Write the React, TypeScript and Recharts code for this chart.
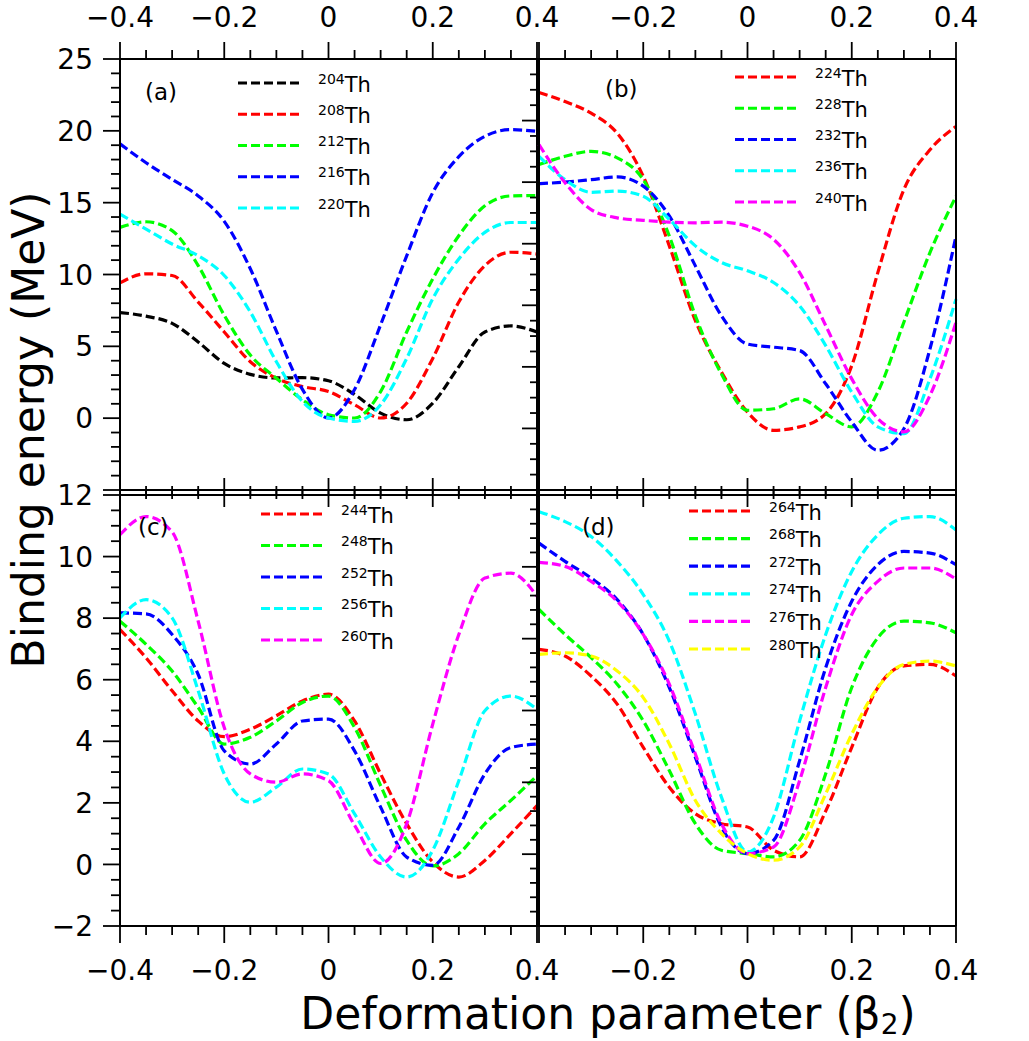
import React from 'react';
import { LineChart, Line, XAxis, YAxis, Legend } from 'recharts';

const FONT = '"DejaVu Sans", "Liberation Sans", sans-serif';
const W = 1029;
const H = 1041;

// deformation parameter grid
const BETA = [-0.4, -0.35, -0.3, -0.25, -0.2, -0.15, -0.1, -0.05, 0, 0.05, 0.1, 0.15, 0.2, 0.25, 0.3, 0.35, 0.4];

// tick values
const X_TICKS = [-0.4, -0.35, -0.3, -0.25, -0.2, -0.15, -0.1, -0.05, 0, 0.05, 0.1, 0.15, 0.2, 0.25, 0.3, 0.35, 0.4];
const Y_TICKS_25 = [-5, -4, -3, -2, -1, 0, 1, 2, 3, 4, 5, 6, 7, 8, 9, 10, 11, 12, 13, 14, 15, 16, 17, 18, 19, 20, 21, 22, 23, 24, 25];
const Y_TICKS_12 = [-2, -1.5, -1, -0.5, 0, 0.5, 1, 1.5, 2, 2.5, 3, 3.5, 4, 4.5, 5, 5.5, 6, 6.5, 7, 7.5, 8, 8.5, 9, 9.5, 10, 10.5, 11, 11.5, 12];

// panel (a)
const TH204 = [7.35, 7.1, 6.6, 5.3, 3.81, 3.05, 2.8, 2.82, 2.6, 1.65, 0.35, -0.11, 1.04, 3.58, 6.0, 6.42, 6.0];
const TH208 = [9.42, 10.05, 9.93, 8.08, 6.0, 3.93, 2.78, 2.2, 1.85, 0.93, 0.01, 1.04, 4.16, 8.08, 10.62, 11.55, 11.43];
const TH212 = [13.28, 13.67, 13.05, 10.62, 7.16, 4.39, 2.78, 1.28, 0.24, 0.01, 1.85, 6.0, 9.7, 12.7, 14.78, 15.47, 15.5];
const TH216 = [19.09, 17.78, 16.62, 15.47, 13.7, 10.4, 6.05, 2.0, 0.01, 2.0, 6.5, 11.3, 15.7, 18.2, 19.62, 20.08, 19.97];
const TH220 = [14.2, 13.16, 12.12, 11.31, 9.93, 7.39, 3.93, 1.16, 0.01, -0.22, 0.93, 4.16, 8.31, 11.08, 12.93, 13.62, 13.62];

// panel (b)
const TH224 = [10.91, 10.62, 10.24, 9.59, 8.19, 5.93, 3.5, 1.83, 0.53, -0.06, 0.05, 0.48, 2.04, 5.06, 7.76, 9.05, 9.81];
const TH228 = [8.57, 8.84, 9.0, 8.79, 8.08, 6.25, 3.66, 1.77, 0.59, 0.64, 0.96, 0.48, 0.05, 1.18, 3.45, 5.71, 7.54];
const TH232 = [7.95, 8.0, 8.08, 8.17, 7.87, 6.9, 5.28, 3.66, 2.74, 2.64, 2.53, 1.45, 0.21, -0.71, -0.01, 2.58, 6.25];
const TH236 = [8.84, 8.08, 7.67, 7.71, 7.54, 6.79, 5.93, 5.39, 5.12, 4.74, 3.98, 2.69, 1.18, 0.05, -0.17, 1.61, 4.2];
const TH240 = [9.22, 7.98, 7.11, 6.84, 6.76, 6.7, 6.68, 6.7, 6.57, 6.14, 5.06, 3.34, 1.61, 0.32, -0.11, 1.07, 3.45];

// panel (c)
const TH244 = [7.63, 6.71, 5.64, 4.66, 4.15, 4.39, 4.83, 5.31, 5.53, 4.66, 2.94, 1.32, 0.08, -0.41, 0.13, 1.0, 1.91];
const TH248 = [7.9, 7.15, 6.28, 5.1, 3.91, 4.13, 4.66, 5.26, 5.47, 4.45, 2.56, 0.78, -0.05, 0.35, 1.32, 2.08, 2.88];
const TH252 = [8.17, 8.14, 7.47, 6.17, 3.69, 3.26, 3.91, 4.66, 4.72, 3.69, 1.86, 0.24, -0.03, 1.21, 2.94, 3.8, 3.91];
const TH256 = [8.01, 8.6, 8.01, 5.64, 2.94, 2.02, 2.51, 3.1, 2.94, 1.64, 0.24, -0.41, 0.46, 2.72, 4.99, 5.47, 5.04];
const TH260 = [10.71, 11.3, 10.8, 7.9, 4.45, 2.94, 2.67, 2.94, 2.72, 1.27, 0.03, 1.32, 4.56, 7.47, 9.3, 9.46, 8.71];

// panel (d)
const TH264 = [14.25, 13.79, 12.4, 10.44, 7.44, 4.66, 2.81, 2.12, 1.89, 0.27, -0.19, 3.0, 7.44, 11.6, 13.1, 13.21, 12.4];
const TH268 = [17.03, 15.29, 13.68, 11.83, 9.28, 5.82, 2.12, 0.27, 0.04, -0.19, 0.96, 5.59, 11.6, 15.06, 16.22, 16.1, 15.41];
const TH272 = [21.65, 20.38, 19.22, 17.72, 15.29, 11.6, 6.74, 1.89, 0.04, 0.96, 6.51, 12.98, 17.6, 20.15, 21.07, 20.96, 20.15];
const TH274 = [23.84, 23.15, 22.11, 20.38, 18.07, 14.83, 9.75, 3.97, 0.16, 2.58, 9.28, 15.29, 19.68, 22.23, 23.38, 23.5, 22.57];
const TH276 = [20.31, 20.03, 18.99, 17.6, 15.29, 11.83, 6.97, 2.12, 0.04, 0.5, 5.12, 11.6, 16.68, 18.99, 19.92, 19.92, 19.15];
const TH280 = [13.91, 14.02, 13.79, 12.75, 10.9, 7.67, 3.74, 1.43, 0.04, -0.42, 0.5, 4.2, 8.36, 11.6, 13.21, 13.44, 13.1];

const BLACK = '#000000';
const RED = '#ff0000';
const GREEN = '#00ff00';
const BLUE = '#0000ff';
const CYAN = '#00ffff';
const MAGENTA = '#ff00ff';
const YELLOW = '#ffff00';

type SeriesDef = { name: string; color: string; values: number[] };

const SERIES_A: SeriesDef[] = [
  { name: '204', color: BLACK, values: TH204 },
  { name: '208', color: RED, values: TH208 },
  { name: '212', color: GREEN, values: TH212 },
  { name: '216', color: BLUE, values: TH216 },
  { name: '220', color: CYAN, values: TH220 },
];
const SERIES_B: SeriesDef[] = [
  { name: '224', color: RED, values: TH224 },
  { name: '228', color: GREEN, values: TH228 },
  { name: '232', color: BLUE, values: TH232 },
  { name: '236', color: CYAN, values: TH236 },
  { name: '240', color: MAGENTA, values: TH240 },
];
const SERIES_C: SeriesDef[] = [
  { name: '244', color: RED, values: TH244 },
  { name: '248', color: GREEN, values: TH248 },
  { name: '252', color: BLUE, values: TH252 },
  { name: '256', color: CYAN, values: TH256 },
  { name: '260', color: MAGENTA, values: TH260 },
];
const SERIES_D: SeriesDef[] = [
  { name: '264', color: RED, values: TH264 },
  { name: '268', color: GREEN, values: TH268 },
  { name: '272', color: BLUE, values: TH272 },
  { name: '274', color: CYAN, values: TH274 },
  { name: '276', color: MAGENTA, values: TH276 },
  { name: '280', color: YELLOW, values: TH280 },
];

const DASH = '9 4';
const LW = 3.2;
const AX = 20;
const MAJOR_LEN = 17;
const MINOR_LEN = 9;
const TICK_FS = 28;

const fmt = (v: number) => {
  const r = Math.round(v * 100) / 100;
  const s = Math.abs(r).toString();
  return r < 0 ? '\u2212' + s : s;
};

type Orient = 'top' | 'bottom' | 'left' | 'right';

function makeTick(orient: Orient, major: number, showLabels: boolean, hidden: number[]) {
  return (props: any) => {
    const { x, y, payload } = props;
    const v = payload.value as number;
    const r = v / major;
    const isMajor = Math.abs(r - Math.round(r)) < 1e-6;
    const len = isMajor ? MAJOR_LEN : MINOR_LEN;
    const show = showLabels && isMajor && !hidden.some((h) => Math.abs(h - v) < 1e-9);
    const txt = fmt(v);
    let x2 = x;
    let y2 = y;
    let label: React.ReactNode = null;
    const tp = { fontFamily: FONT, fontSize: TICK_FS, fill: '#000' };
    if (orient === 'top') {
      y2 = y - len;
      if (show) label = <text x={x} y={y - 32} textAnchor="middle" {...tp}>{txt}</text>;
    } else if (orient === 'bottom') {
      y2 = y + len;
      if (show) label = <text x={x} y={y + 54} textAnchor="middle" {...tp}>{txt}</text>;
    } else if (orient === 'left') {
      x2 = x - len;
      if (show) label = <text x={x - 27} y={y} dy="0.36em" textAnchor="end" {...tp}>{txt}</text>;
    } else {
      x2 = x + len;
      if (show) label = <text x={x + 26} y={y} dy="0.36em" textAnchor="start" {...tp}>{txt}</text>;
    }
    return (
      <g>
        <line x1={x} y1={y} x2={x2} y2={y2} stroke="#000" strokeWidth={1.8} />
        {label}
      </g>
    );
  };
}

const LegendBox = ({ payload, rowH }: { payload: any[]; rowH: number }) => (
  <svg width={200} height={rowH * payload.length + 20} style={{ display: 'block', overflow: 'visible' }}>
    {payload.map((e: any, i: number) => {
      const y = 15 + i * rowH;
      return (
        <g key={i}>
          <line x1={0} x2={64} y1={y} y2={y} stroke={e.color} strokeWidth={LW} strokeDasharray={DASH} />
          <text x={80} y={y + 8.5} fontFamily={FONT} fill="#000">
            <tspan fontSize={14} dy={-8}>{e.value}</tspan>
            <tspan fontSize={21} dy={8}>Th</tspan>
          </text>
        </g>
      );
    })}
  </svg>
);

type PanelCfg = {
  series: SeriesDef[];
  rect: { left: number; top: number; right: number; bottom: number };
  yDomain: [number, number];
  yTicks: number[];
  yMajor: number;
  yLabelSide: 'left' | 'right';
  xLabelSide: 'top' | 'bottom';
  hideX: number[];
  hideY: number[];
  legend: { left: number; top: number; rowH: number };
};

const PANELS: PanelCfg[] = [
  {
    series: SERIES_A,
    rect: { left: 120, top: 59, right: 537, bottom: 490 },
    yDomain: [-5, 25], yTicks: Y_TICKS_25, yMajor: 5,
    yLabelSide: 'left', xLabelSide: 'top', hideX: [], hideY: [-5],
    legend: { left: 238, top: 68, rowH: 31.25 },
  },
  {
    series: SERIES_B,
    rect: { left: 539, top: 59, right: 956, bottom: 490 },
    yDomain: [-2, 12], yTicks: Y_TICKS_12, yMajor: 2,
    yLabelSide: 'right', xLabelSide: 'top', hideX: [-0.4], hideY: [-2],
    legend: { left: 735, top: 62, rowH: 31.25 },
  },
  {
    series: SERIES_C,
    rect: { left: 120, top: 495, right: 537, bottom: 926 },
    yDomain: [-2, 12], yTicks: Y_TICKS_12, yMajor: 2,
    yLabelSide: 'left', xLabelSide: 'bottom', hideX: [], hideY: [],
    legend: { left: 261, top: 499, rowH: 31.5 },
  },
  {
    series: SERIES_D,
    rect: { left: 539, top: 495, right: 956, bottom: 926 },
    yDomain: [-5, 25], yTicks: Y_TICKS_25, yMajor: 5,
    yLabelSide: 'right', xLabelSide: 'bottom', hideX: [-0.4], hideY: [],
    legend: { left: 689, top: 496, rowH: 27.6 },
  },
];

const buildRows = (series: SeriesDef[]) =>
  BETA.map((b, i) => {
    const row: Record<string, number> = { beta: b };
    series.forEach((s) => {
      row['th' + s.name] = s.values[i];
    });
    return row;
  });

const AXIS_LINE = { stroke: '#000', strokeWidth: 2 };

function Panel({ cfg }: { cfg: PanelCfg }) {
  const { rect } = cfg;
  const margin = {
    top: rect.top - AX,
    left: rect.left - AX,
    right: W - rect.right - AX,
    bottom: H - rect.bottom - AX,
  };
  const data = buildRows(cfg.series);
  return (
    <div style={{ position: 'absolute', left: 0, top: 0 }}>
      <LineChart width={W} height={H} data={data} margin={margin}>
        <XAxis
          xAxisId="T" orientation="top" dataKey="beta" type="number" domain={[-0.4, 0.4]}
          ticks={X_TICKS} interval={0} height={AX} tickSize={0} tickMargin={0} tickLine={false}
          axisLine={AXIS_LINE} tick={makeTick('top', 0.2, cfg.xLabelSide === 'top', cfg.hideX)}
        />
        <XAxis
          xAxisId="B" orientation="bottom" dataKey="beta" type="number" domain={[-0.4, 0.4]}
          ticks={X_TICKS} interval={0} height={AX} tickSize={0} tickMargin={0} tickLine={false}
          axisLine={AXIS_LINE} tick={makeTick('bottom', 0.2, cfg.xLabelSide === 'bottom', cfg.hideX)}
        />
        <YAxis
          yAxisId="L" orientation="left" type="number" domain={cfg.yDomain}
          ticks={cfg.yTicks} interval={0} width={AX} tickSize={0} tickMargin={0} tickLine={false}
          axisLine={AXIS_LINE} tick={makeTick('left', cfg.yMajor, cfg.yLabelSide === 'left', cfg.hideY)}
        />
        <YAxis
          yAxisId="R" orientation="right" type="number" domain={cfg.yDomain}
          ticks={cfg.yTicks} interval={0} width={AX} tickSize={0} tickMargin={0} tickLine={false}
          axisLine={AXIS_LINE} tick={makeTick('right', cfg.yMajor, cfg.yLabelSide === 'right', cfg.hideY)}
        />
        <Legend
          layout="vertical" align="center" verticalAlign="middle"
          wrapperStyle={{ left: cfg.legend.left, top: cfg.legend.top, width: 200, height: cfg.legend.rowH * cfg.series.length + 20 }}
          content={(p: any) => <LegendBox payload={p.payload || []} rowH={cfg.legend.rowH} />}
        />
        {cfg.series.map((s) => (
          <Line
            key={s.name}
            xAxisId="B"
            yAxisId="L"
            type="monotone"
            dataKey={'th' + s.name}
            name={s.name}
            stroke={s.color}
            strokeWidth={LW}
            strokeDasharray={DASH}
            dot={false}
            activeDot={false}
            isAnimationActive={false}
          />
        ))}
      </LineChart>
    </div>
  );
}

const PANEL_LABELS = [
  { text: '(a)', x: 145, y: 100 },
  { text: '(b)', x: 605, y: 97 },
  { text: '(c)', x: 138, y: 535 },
  { text: '(d)', x: 582, y: 535 },
];

export default function App() {
  return (
    <div style={{ position: 'absolute', left: 0, top: 0, width: W, height: H, background: '#fff', overflow: 'hidden' }}>
      {PANELS.map((cfg, i) => (
        <Panel key={i} cfg={cfg} />
      ))}
      <svg width={W} height={H} style={{ position: 'absolute', left: 0, top: 0, pointerEvents: 'none' }}>
        {PANEL_LABELS.map((l) => (
          <text key={l.text} x={l.x} y={l.y} fontFamily={FONT} fontSize={23} fill="#000">{l.text}</text>
        ))}
        <text x={608} y={1029} textAnchor="middle" fontFamily={FONT} fontSize={44} fill="#000">
          Deformation parameter (β<tspan fontSize={28} dy={5}>2</tspan><tspan dy={-5}>)</tspan>
        </text>
        <text transform="translate(44,430) rotate(-90)" textAnchor="middle" fontFamily={FONT} fontSize={44} fill="#000">
          Binding energy (MeV)
        </text>
      </svg>
    </div>
  );
}
